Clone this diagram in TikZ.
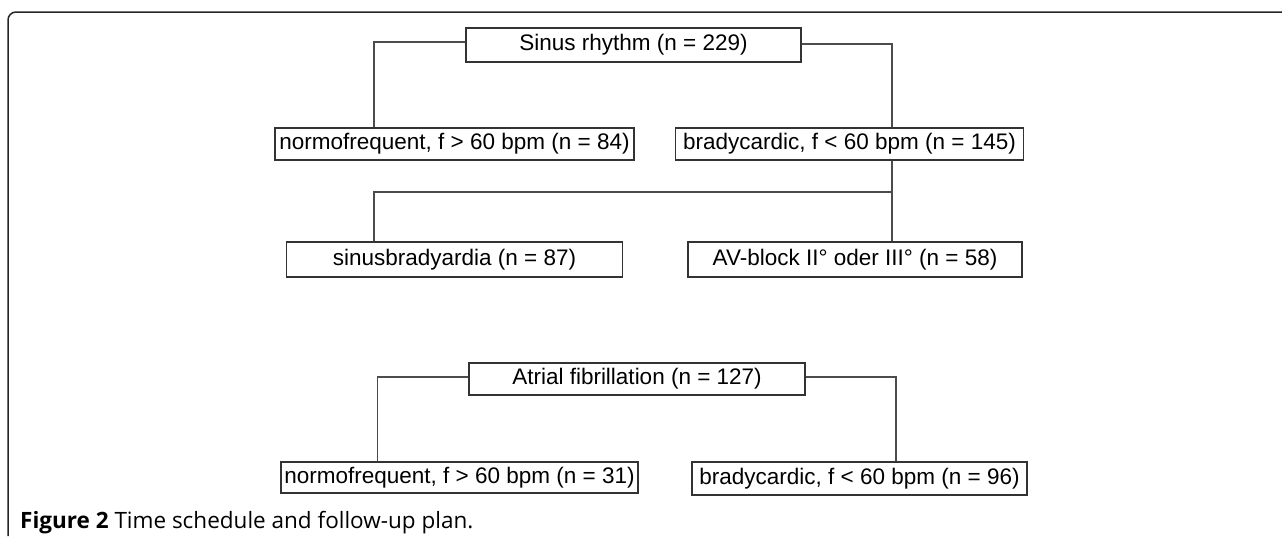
\documentclass[tikz,border=0pt]{standalone}
\usepackage{fontspec}
\setmainfont{Liberation Sans}
\newfontfamily\capfont{Open Sans}
\usepackage{tikz}

\tikzset{
  box/.style={draw=black!80, line width=1.3pt, inner sep=0pt,
    font=\fontsize{22.5}{26}\selectfont},
  link/.style={draw=black!70, line width=1.1pt},
  frame/.style={draw=black!85, line width=1.5pt, rounded corners=8pt}
}

\begin{document}
\begin{tikzpicture}[x=1pt,y=-1pt]
  \useasboundingbox (0,0) rectangle (1282,536);
  \draw[frame] (8,536)--(8,12)--(1282,12);

  % sinus rhythm branch
  \node[box, minimum width=335pt, minimum height=34pt] (S) at (633.5,45) {Sinus rhythm (n = 229)};
  \node[box, minimum width=359pt, minimum height=32pt] (N1) at (454.5,144) {normofrequent, f > 60 bpm (n = 84)};
  \node[box, minimum width=348pt, minimum height=32pt] (B1) at (849.5,144) {bradycardic, f < 60 bpm (n = 145)};
  \node[box, minimum width=336pt, minimum height=35pt] (SB) at (454.5,259.5) {sinusbradyardia (n = 87)};
  \node[box, minimum width=334pt, minimum height=35pt] (AV) at (855,259.5) {AV-block II° oder III° (n = 58)};
  \coordinate (jl) at (374,192);
  \coordinate (jr) at (892,192);
  \draw[link] ([yshift=3pt]S.west) -| (N1.north -| jl);
  \draw[link] ([yshift=1pt]S.east) -| (B1.north -| jr);
  \draw[link] (B1.south -| jr) -- (jr) -- (AV.north -| jr);
  \draw[link] (jr) -- (jl) -- (SB.north -| jl);

  % atrial fibrillation branch
  \node[box, minimum width=336pt, minimum height=32pt] (AF) at (637,379) {Atrial fibrillation (n = 127)};
  \node[box, minimum width=357pt, minimum height=31pt] (N2) at (459.5,477.5) {normofrequent, f > 60 bpm (n = 31)};
  \node[box, minimum width=335pt, minimum height=33pt] (B2) at (859.5,478.5) {bradycardic, f < 60 bpm (n = 96)};
  \coordinate (kl) at (377.5,0);
  \coordinate (kr) at (896,0);
  \draw[link] ([yshift=2pt]AF.west) -| (N2.north -| kl);
  \draw[link] ([yshift=2pt]AF.east) -| (B2.north -| kr);

  \node[anchor=base west, inner sep=0pt, font=\capfont\fontsize{22.5}{26}\selectfont] (cap) at (20,528)
    {\textbf{Figure 2} Time schedule and follow-up plan.};
\end{tikzpicture}
\end{document}
